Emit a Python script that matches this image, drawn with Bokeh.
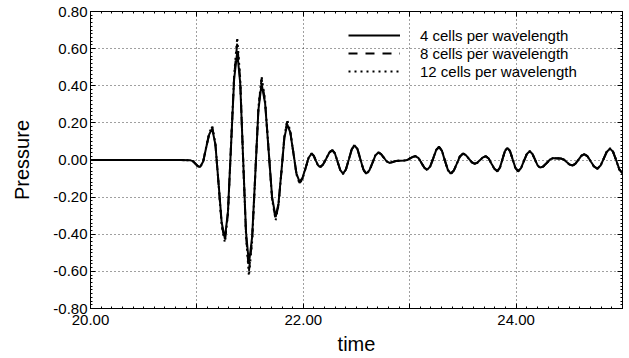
from bokeh.plotting import figure
from bokeh.models import (SingleIntervalTicker, LinearAxis, CustomJSTickFormatter,
                          Legend, LegendItem, Range1d, Grid)
from bokeh.embed import file_html
from bokeh.resources import INLINE

FONT = "Liberation Sans"

# ---- data ----
time = [20.000, 20.300, 20.600, 20.850, 20.940, 20.962, 20.985, 21.008, 21.030, 21.059,
        21.087, 21.116, 21.144, 21.174, 21.204, 21.233, 21.263, 21.292, 21.321, 21.350,
        21.379, 21.407, 21.434, 21.462, 21.489, 21.519, 21.549, 21.578, 21.608, 21.641,
        21.674, 21.707, 21.740, 21.767, 21.795, 21.822, 21.849, 21.878, 21.907, 21.936,
        21.965, 21.993, 22.022, 22.050, 22.078, 22.098, 22.117, 22.137, 22.156, 22.185,
        22.215, 22.244, 22.273, 22.298, 22.323, 22.348, 22.373, 22.400, 22.428, 22.455,
        22.482, 22.510, 22.537, 22.565, 22.592, 22.620, 22.649, 22.677, 22.705, 22.731,
        22.758, 22.784, 22.810, 22.870, 22.950, 22.977, 23.003, 23.030, 23.056, 23.084,
        23.111, 23.139, 23.166, 23.193, 23.221, 23.248, 23.275, 23.303, 23.330, 23.358,
        23.385, 23.414, 23.443, 23.471, 23.500, 23.528, 23.555, 23.583, 23.610, 23.636,
        23.662, 23.688, 23.714, 23.742, 23.769, 23.797, 23.824, 23.848, 23.871, 23.895,
        23.918, 23.943, 23.968, 23.993, 24.018, 24.046, 24.073, 24.101, 24.128, 24.152,
        24.177, 24.201, 24.225, 24.256, 24.288, 24.319, 24.350, 24.420, 24.448, 24.475,
        24.503, 24.530, 24.558, 24.585, 24.613, 24.640, 24.671, 24.702, 24.733, 24.764,
        24.794, 24.824, 24.853, 24.883, 24.910, 24.940, 24.970, 25.000]

p4 = [0.000, 0.000, 0.000, 0.000, -0.002, -0.006, -0.019, -0.032, -0.038, -0.008,
      0.066, 0.139, 0.169, 0.082, -0.128, -0.337, -0.424, -0.277, 0.079, 0.435,
      0.582, 0.415, 0.012, -0.391, -0.558, -0.416, -0.074, 0.269, 0.411, 0.306,
      0.052, -0.202, -0.307, -0.234, -0.058, 0.119, 0.192, 0.147, 0.037, -0.073,
      -0.118, -0.096, -0.042, 0.012, 0.034, 0.023, -0.002, -0.027, -0.038, -0.025,
      0.007, 0.039, 0.052, 0.034, -0.011, -0.055, -0.073, -0.051, 0.003, 0.057,
      0.079, 0.057, 0.003, -0.051, -0.073, -0.057, -0.017, 0.024, 0.040, 0.032,
      0.012, -0.008, -0.016, -0.005, -0.003, 0.000, 0.009, 0.017, 0.020, 0.010,
      -0.016, -0.042, -0.052, -0.034, 0.009, 0.052, 0.070, 0.049, -0.002, -0.052,
      -0.073, -0.057, -0.020, 0.018, 0.034, 0.026, 0.007, -0.012, -0.020, -0.014,
      0.000, 0.014, 0.020, 0.008, -0.020, -0.047, -0.059, -0.041, 0.003, 0.047,
      0.065, 0.047, 0.003, -0.041, -0.059, -0.044, -0.006, 0.032, 0.047, 0.034,
      0.003, -0.028, -0.041, -0.034, -0.016, 0.003, 0.010, 0.008, 0.003, -0.011,
      -0.024, -0.029, -0.020, 0.001, 0.022, 0.031, 0.020, -0.008, -0.035, -0.046,
      -0.030, 0.008, 0.045, 0.061, 0.045, 0.000, -0.050, -0.070]

p8 = [0.000, 0.000, 0.000, 0.000, -0.002, -0.006, -0.020, -0.033, -0.040, -0.009,
      0.068, 0.145, 0.178, 0.085, -0.132, -0.348, -0.438, -0.285, 0.082, 0.450,
      0.628, 0.430, 0.012, -0.405, -0.600, -0.430, -0.076, 0.278, 0.438, 0.315,
      0.053, -0.208, -0.318, -0.240, -0.060, 0.124, 0.208, 0.151, 0.038, -0.076,
      -0.124, -0.099, -0.043, 0.012, 0.035, 0.023, -0.002, -0.028, -0.039, -0.025,
      0.007, 0.040, 0.054, 0.035, -0.011, -0.056, -0.075, -0.052, 0.003, 0.058,
      0.081, 0.058, 0.003, -0.052, -0.075, -0.058, -0.017, 0.024, 0.041, 0.032,
      0.012, -0.008, -0.016, -0.005, -0.003, 0.000, 0.009, 0.017, 0.021, 0.010,
      -0.016, -0.043, -0.054, -0.035, 0.009, 0.053, 0.072, 0.050, -0.002, -0.053,
      -0.075, -0.058, -0.020, 0.018, 0.035, 0.026, 0.007, -0.012, -0.021, -0.014,
      0.000, 0.014, 0.021, 0.008, -0.020, -0.048, -0.061, -0.042, 0.003, 0.048,
      0.067, 0.048, 0.003, -0.042, -0.061, -0.045, -0.006, 0.033, 0.048, 0.034,
      0.003, -0.029, -0.042, -0.034, -0.016, 0.003, 0.010, 0.008, 0.003, -0.011,
      -0.025, -0.030, -0.020, 0.001, 0.022, 0.032, 0.020, -0.008, -0.036, -0.047,
      -0.031, 0.008, 0.046, 0.063, 0.046, 0.000, -0.051, -0.072]

p12 = [0.000, 0.000, 0.000, 0.000, -0.002, -0.006, -0.020, -0.034, -0.041, -0.009,
       0.069, 0.147, 0.182, 0.087, -0.134, -0.352, -0.445, -0.289, 0.084, 0.460,
       0.660, 0.440, 0.013, -0.412, -0.625, -0.440, -0.078, 0.283, 0.450, 0.320,
       0.054, -0.212, -0.325, -0.244, -0.061, 0.127, 0.215, 0.154, 0.039, -0.078,
       -0.128, -0.101, -0.044, 0.012, 0.036, 0.024, -0.002, -0.028, -0.040, -0.026,
       0.007, 0.041, 0.055, 0.036, -0.011, -0.057, -0.076, -0.053, 0.003, 0.059,
       0.082, 0.059, 0.003, -0.053, -0.076, -0.059, -0.018, 0.025, 0.042, 0.033,
       0.012, -0.008, -0.017, -0.005, -0.003, 0.000, 0.009, 0.018, 0.021, 0.010,
       -0.017, -0.044, -0.055, -0.035, 0.009, 0.054, 0.073, 0.051, -0.002, -0.054,
       -0.076, -0.059, -0.021, 0.019, 0.036, 0.027, 0.007, -0.013, -0.021, -0.015,
       0.000, 0.015, 0.021, 0.008, -0.021, -0.049, -0.062, -0.043, 0.003, 0.049,
       0.068, 0.049, 0.003, -0.043, -0.062, -0.046, -0.006, 0.034, 0.049, 0.035,
       0.003, -0.029, -0.043, -0.035, -0.017, 0.003, 0.011, 0.008, 0.003, -0.012,
       -0.025, -0.030, -0.021, 0.001, 0.023, 0.032, 0.021, -0.008, -0.037, -0.048,
       -0.031, 0.008, 0.047, 0.064, 0.047, 0.000, -0.052, -0.073]

series_labels = ["4 cells per wavelength", "8 cells per wavelength", "12 cells per wavelength"]

# ---- figure ----
p = figure(width=629, height=358, output_backend="svg", toolbar_location=None,
           x_range=Range1d(20, 25), y_range=Range1d(-0.8, 0.8),
           x_axis_type=None, y_axis_type=None,
           min_border_left=90, min_border_right=7, min_border_top=11, min_border_bottom=50)
p.outline_line_color = "black"
p.outline_line_width = 1
p.background_fill_color = "white"
p.border_fill_color = "white"

xt = SingleIntervalTicker(interval=1, num_minor_ticks=10)
yt = SingleIntervalTicker(interval=0.2, num_minor_ticks=10)

xfmt = CustomJSTickFormatter(code="return (Math.round(tick) % 2 == 0) ? tick.toFixed(2) : '';")
yfmt = CustomJSTickFormatter(code="return tick.toFixed(2);")
blank = CustomJSTickFormatter(code="return '';")


def style(ax, labels=True):
    ax.axis_line_color = "black"
    ax.major_tick_line_color = "black"
    ax.minor_tick_line_color = "black"
    ax.major_tick_in = 5
    ax.major_tick_out = 0
    ax.minor_tick_in = 2
    ax.minor_tick_out = 0
    if labels:
        ax.major_label_text_font = FONT
        ax.major_label_text_font_size = "15px"
        ax.major_label_text_color = "black"
        ax.axis_label_text_font = FONT
        ax.axis_label_text_font_size = "20px"
        ax.axis_label_text_font_style = "normal"
        ax.axis_label_text_color = "black"
    else:
        ax.major_label_text_font_size = "0px"
        ax.major_label_standoff = 0


bottom = LinearAxis(ticker=xt, formatter=xfmt, axis_label="time")
style(bottom)
bottom.major_label_standoff = 6
bottom.axis_label_standoff = 5
left = LinearAxis(ticker=yt, formatter=yfmt, axis_label="Pressure")
style(left)
left.major_label_standoff = 3
left.axis_label_standoff = 17
top = LinearAxis(ticker=xt, formatter=blank)
style(top, labels=False)
right = LinearAxis(ticker=yt, formatter=blank)
style(right, labels=False)

p.add_layout(bottom, "below")
p.add_layout(left, "left")
p.add_layout(top, "above")
p.add_layout(right, "right")

for dim, tk in ((0, xt), (1, yt)):
    g = Grid(dimension=dim, ticker=tk, grid_line_color="black", grid_line_alpha=0.75,
             grid_line_dash="1 3", grid_line_width=1)
    p.add_layout(g)

r4 = p.line(time, p4, line_color="black", line_width=2)
r8 = p.line(time, p8, line_color="black", line_width=2, line_dash="9 8")
r12 = p.line(time, p12, line_color="black", line_width=2, line_dash="2 4")

legend = Legend(items=[LegendItem(label=series_labels[0], renderers=[r4]),
                       LegendItem(label=series_labels[1], renderers=[r8]),
                       LegendItem(label=series_labels[2], renderers=[r12])],
                location=(258, 228))
legend.background_fill_alpha = 0
legend.border_line_alpha = 0
legend.label_text_font = FONT
legend.label_text_font_size = "15px"
legend.label_text_color = "black"
legend.glyph_width = 52
legend.glyph_height = 18
legend.label_height = 18
legend.label_standoff = 20
legend.padding = 0
legend.spacing = 0
legend.margin = 0
p.add_layout(legend)

open("out.html", "w").write(file_html(p, INLINE))
